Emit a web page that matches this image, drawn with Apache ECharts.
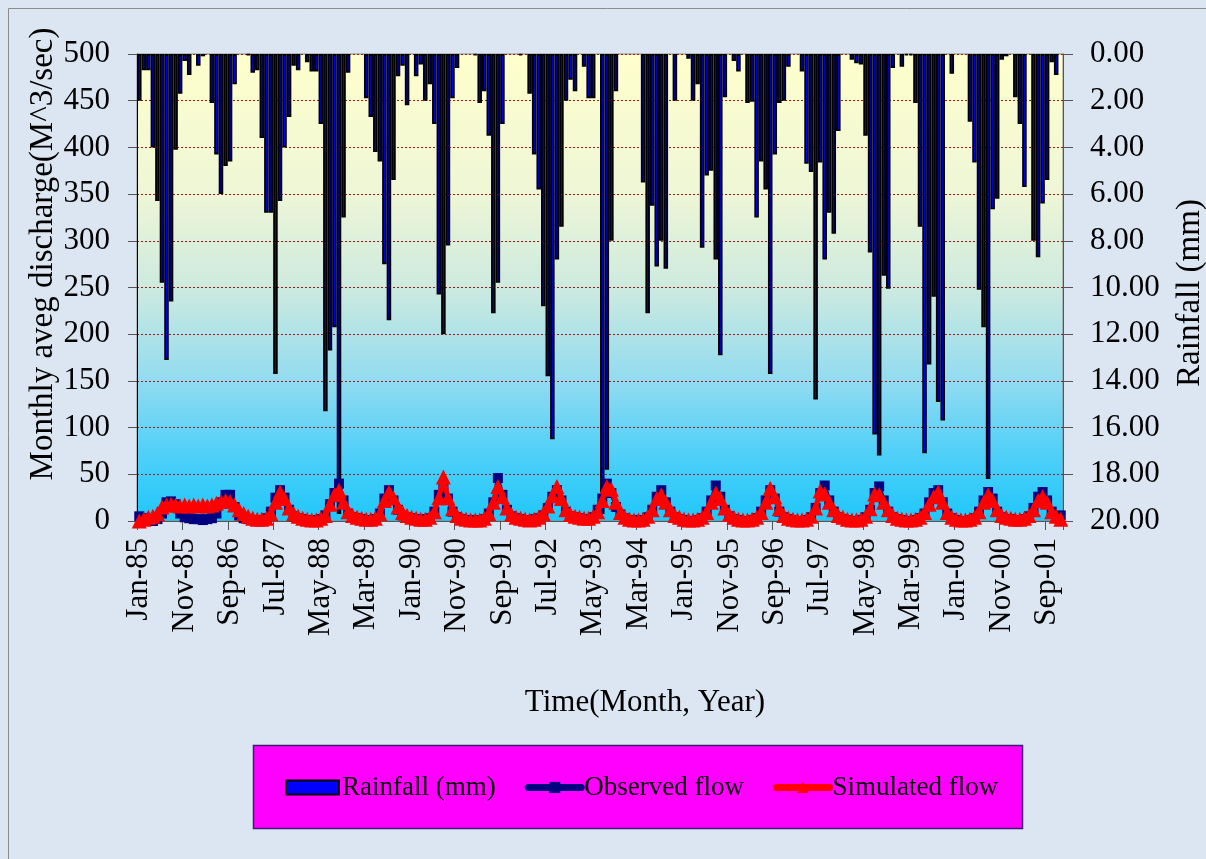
<!DOCTYPE html>
<html>
<head>
<meta charset="utf-8">
<title>Rainfall, observed and simulated flow 1985-2001</title>
<script src="https://cdn.jsdelivr.net/npm/echarts@6/dist/echarts.min.js"></script>
<style>
  html, body { margin: 0; padding: 0; background: #dce6f2; }
  #chart { width: 1206px; height: 859px; }
</style>
</head>
<body>
<div id="chart"></div>
<script>
// Month / year parts of the category labels (Jan-85 ... Dec-01)
const MONTHS = ['Jan','Feb','Mar','Apr','May','Jun','Jul','Aug','Sep','Oct','Nov','Dec'];
const YEARS = ['85','86','87','88','89','90','91','92','93','94','95','96','97','98','99','00','01'];

// Monthly rainfall (mm), one row per year
const rainfall = [
  2.0, 0.7, 0.7, 4.0, 6.3, 9.8, 13.1, 10.6, 4.1, 1.7, 0.3, 0.9,
  0, 0.5, 0.1, 0, 2.1, 4.3, 6.0, 4.8, 4.6, 1.3, 0, 0,
  0.05, 0.8, 0.7, 3.6, 6.8, 6.8, 13.7, 6.3, 4.0, 2.7, 0.5, 0.7,
  0, 0.35, 0.75, 0.75, 3.0, 15.3, 12.7, 11.7, 19.7, 7.0, 0.8, 0,
  0, 0, 1.9, 2.7, 4.2, 4.6, 9.0, 11.4, 5.4, 0.95, 0.5, 2.2,
  0, 0.95, 0.45, 2.0, 1.3, 3.0, 10.3, 12.0, 8.2, 1.9, 0.6, 0,
  0, 0, 0.05, 2.1, 1.6, 3.5, 11.1, 9.8, 3.0, 0, 0, 0,
  0.05, 0, 1.7, 4.3, 5.8, 10.8, 13.8, 16.5, 8.8, 7.4, 2.0, 1.1,
  1.6, 0, 0.55, 1.9, 1.9, 0, 19.7, 17.8, 8.0, 1.6, 0, 0,
  0, 0, 0, 5.5, 11.1, 6.5, 9.1, 8.0, 9.2, 0, 2.0, 0,
  0, 0.2, 2.0, 1.3, 8.3, 5.2, 5.0, 8.8, 12.9, 1.85, 0, 0.3,
  0.75, 0, 2.1, 2.05, 7.0, 4.6, 5.8, 13.7, 4.3, 2.1, 2.0, 0.55,
  0, 0, 0.75, 4.7, 5.05, 14.8, 4.65, 8.8, 6.8, 7.7, 3.3, 0,
  0, 0.25, 0.4, 0.45, 3.5, 8.5, 16.3, 17.2, 9.5, 10.05, 0.6, 0,
  0.55, 0.05, 0.05, 2.1, 7.4, 17.1, 13.3, 10.4, 14.9, 15.7, 0, 0.85,
  0, 0, 0, 2.9, 4.65, 10.1, 11.7, 18.2, 6.65, 6.2, 0.25, 0.1,
  0, 1.85, 3.0, 5.7, 0, 8.0, 8.7, 6.4, 5.4, 0.35, 0.9, 0
];

// Observed monthly average discharge (M^3/sec)
const observedFlow = [
  5, 3, 0, 0, 2, 8, 20, 21, 18, 8, 4, 3,
  2, 2, 1, 2, 3, 8, 20, 28, 28, 15, 6, 3,
  2, 1, 1, 1, 3, 10, 25, 33, 25, 12, 5, 3,
  2, 1, 1, 1, 2, 6, 18, 30, 40, 22, 8, 4,
  3, 2, 1, 1, 2, 8, 24, 33, 22, 12, 6, 4,
  3, 2, 1, 2, 3, 10, 28, 37, 24, 10, 4, 2,
  1, 1, 0, 1, 2, 8, 20, 46, 28, 12, 5, 3,
  2, 1, 1, 2, 3, 6, 14, 26, 33, 22, 10, 5,
  4, 3, 2, 2, 4, 12, 24, 40, 30, 15, 7, 3,
  1, 1, 0, 1, 4, 12, 26, 33, 20, 10, 4, 2,
  1, 0, 0, 1, 3, 10, 22, 38, 26, 12, 5, 2,
  1, 0, 0, 1, 3, 10, 22, 33, 24, 10, 4, 2,
  1, 0, 0, 1, 4, 14, 30, 38, 22, 10, 4, 2,
  1, 0, 0, 1, 4, 12, 30, 37, 22, 10, 4, 2,
  1, 0, 0, 1, 3, 8, 20, 30, 33, 20, 8, 3,
  1, 0, 0, 1, 3, 10, 22, 31, 24, 10, 4, 2,
  2, 1, 1, 2, 5, 14, 26, 31, 22, 10, 4, 6
];

// Simulated monthly average discharge (M^3/sec)
const simulatedFlow = [
  0, 2, 4, 5, 8, 15, 17, 18, 17, 16, 17, 16,
  17, 16, 17, 16, 17, 19, 21, 22, 21, 17, 12, 8,
  5, 3, 2, 2, 3, 8, 20, 31, 24, 14, 8, 5,
  3, 2, 1, 1, 3, 6, 18, 28, 33, 20, 10, 6,
  4, 3, 2, 2, 3, 8, 22, 31, 25, 15, 9, 6,
  4, 3, 2, 2, 4, 10, 25, 47, 25, 13, 6, 3,
  2, 1, 1, 1, 3, 8, 20, 37, 26, 14, 7, 4,
  3, 2, 1, 2, 4, 8, 16, 27, 37, 24, 12, 7,
  5, 4, 3, 3, 5, 10, 22, 37, 34, 20, 9, 4,
  2, 1, 1, 2, 5, 12, 24, 28, 20, 12, 6, 4,
  2, 1, 1, 2, 4, 9, 20, 30, 24, 14, 7, 4,
  2, 1, 1, 2, 4, 9, 20, 35, 26, 13, 6, 3,
  2, 1, 1, 2, 5, 14, 32, 29, 20, 12, 6, 4,
  2, 1, 1, 2, 5, 13, 29, 28, 20, 12, 6, 3,
  2, 1, 1, 2, 4, 9, 18, 26, 31, 20, 9, 4,
  2, 1, 1, 2, 4, 10, 20, 28, 22, 12, 6, 4,
  3, 2, 2, 3, 6, 12, 22, 26, 20, 10, 5, 2
];

// Right-axis tick label format (0.00 ... 20.00)
const RAIN_DECIMALS = 2;

const categories = [];
YEARS.forEach(y => MONTHS.forEach(m => categories.push(m + '-' + y)));

const SERIF = '"Liberation Serif", "Times New Roman", serif';

const chart = echarts.init(document.getElementById('chart'), null, { renderer: 'canvas' });

chart.setOption({
  backgroundColor: '#dce6f2',
  animation: false,
  textStyle: { fontFamily: SERIF, color: '#000' },
  grid: {
    left: 137, right: 143, top: 54, bottom: 338,
    show: true,
    borderColor: '#8a8a8a',
    borderWidth: 1,
    backgroundColor: {
      type: 'linear', x: 0, y: 0, x2: 0, y2: 1,
      colorStops: [
        { offset: 0, color: '#ffffcc' },
        { offset: 0.3, color: '#eef6d6' },
        { offset: 0.5, color: '#cdeadf' },
        { offset: 0.7, color: '#92dbf0' },
        { offset: 0.85, color: '#52d0f8' },
        { offset: 1, color: '#1ec7fb' }
      ]
    }
  },
  legend: {
    left: 285, top: 774, padding: 0,
    itemWidth: 53, itemHeight: 14, itemGap: 29,
    z: 10,
    textStyle: { fontFamily: SERIF, fontSize: 27, color: '#000', padding: [0, 0, 0, -2] },
    data: [
      { name: 'Rainfall (mm)', icon: 'rect', itemStyle: { color: '#0000ff', borderColor: '#000000', borderWidth: 2 } },
      { name: 'Observed flow', lineStyle: { width: 7, color: '#000080', cap: 'round' }, itemStyle: { color: '#000080' } },
      { name: 'Simulated flow', lineStyle: { width: 7, color: '#ff0000', cap: 'round' }, itemStyle: { color: '#ff0000' } }
    ]
  },
  xAxis: {
    type: 'category',
    data: categories,
    boundaryGap: true,
    axisLine: { show: true, lineStyle: { color: '#555555', width: 1 } },
    axisTick: { show: true, interval: 9, length: 9, lineStyle: { color: '#555555' } },
    axisLabel: {
      interval: 9, rotate: 90, margin: 17,
      fontFamily: SERIF, fontSize: 31, color: '#000'
    },
    splitLine: { show: false }
  },
  yAxis: [
    {
      type: 'value', position: 'left',
      min: 0, max: 500, interval: 50,
      axisLine: { show: true, lineStyle: { color: '#000000', width: 1 } },
      axisTick: { show: true, length: 9, lineStyle: { color: '#555555' } },
      axisLabel: { margin: 27, fontFamily: SERIF, fontSize: 31, color: '#000' },
      splitLine: { show: true, lineStyle: { color: '#9b1c1c', width: 1, type: [2, 2] } }
    },
    {
      type: 'value', position: 'right',
      min: 0, max: 20, interval: 2, inverse: true,
      axisLine: { show: true, lineStyle: { color: '#555555', width: 1 } },
      axisTick: { show: true, length: 10, lineStyle: { color: '#555555' } },
      axisLabel: {
        margin: 27, fontFamily: SERIF, fontSize: 31, color: '#000',
        formatter: v => v.toFixed(RAIN_DECIMALS)
      },
      splitLine: { show: false }
    }
  ],
  graphic: [
    { type: 'line', z: 0, shape: { x1: 8.5, y1: 8.5, x2: 8.5, y2: 859 }, style: { stroke: '#8c8c8c', lineWidth: 1 } },
    { type: 'line', z: 0, shape: { x1: 8.5, y1: 8.5, x2: 1206, y2: 8.5 }, style: { stroke: '#8c8c8c', lineWidth: 1 } },
    {
      type: 'text', z: 5,
      position: [43, 254], rotation: Math.PI / 2,
      style: { text: 'Monthly aveg discharge(M^3/sec)', font: '33px ' + SERIF, fill: '#000', textAlign: 'center', textVerticalAlign: 'middle' }
    },
    {
      type: 'text', z: 5,
      position: [1190, 293], rotation: Math.PI / 2,
      style: { text: 'Rainfall (mm)', font: '33px ' + SERIF, fill: '#000', textAlign: 'center', textVerticalAlign: 'middle' }
    },
    {
      type: 'text', z: 5,
      position: [645, 703],
      style: { text: 'Time(Month, Year)', font: '31px ' + SERIF, fill: '#000', textAlign: 'center', textVerticalAlign: 'middle' }
    },
    {
      type: 'rect', z: 1,
      shape: { x: 253.5, y: 745.5, width: 769, height: 83 },
      style: { fill: '#ff00ff', stroke: '#3d1a73', lineWidth: 1.5 }
    }
  ],
  series: [
    {
      name: 'Rainfall (mm)',
      type: 'bar',
      xAxisIndex: 0, yAxisIndex: 1,
      data: rainfall.map(v => (v > 0 ? v : '-')),
      barCategoryGap: '0%', barGap: '0%',
      itemStyle: { color: '#0000ff', borderColor: '#000000', borderWidth: 1.8 },
      z: 2
    },
    {
      name: 'Observed flow',
      type: 'line',
      yAxisIndex: 0,
      data: observedFlow,
      symbol: 'rect', symbolSize: 10,
      showAllSymbol: true,
      lineStyle: { color: '#000080', width: 4 },
      itemStyle: { color: '#000080' },
      z: 3
    },
    {
      name: 'Simulated flow',
      type: 'line',
      yAxisIndex: 0,
      data: simulatedFlow,
      symbol: 'triangle', symbolSize: 15,
      showAllSymbol: true,
      lineStyle: { color: '#ff0000', width: 5 },
      itemStyle: { color: '#ff0000' },
      z: 4
    }
  ]
});
</script>
</body>
</html>
